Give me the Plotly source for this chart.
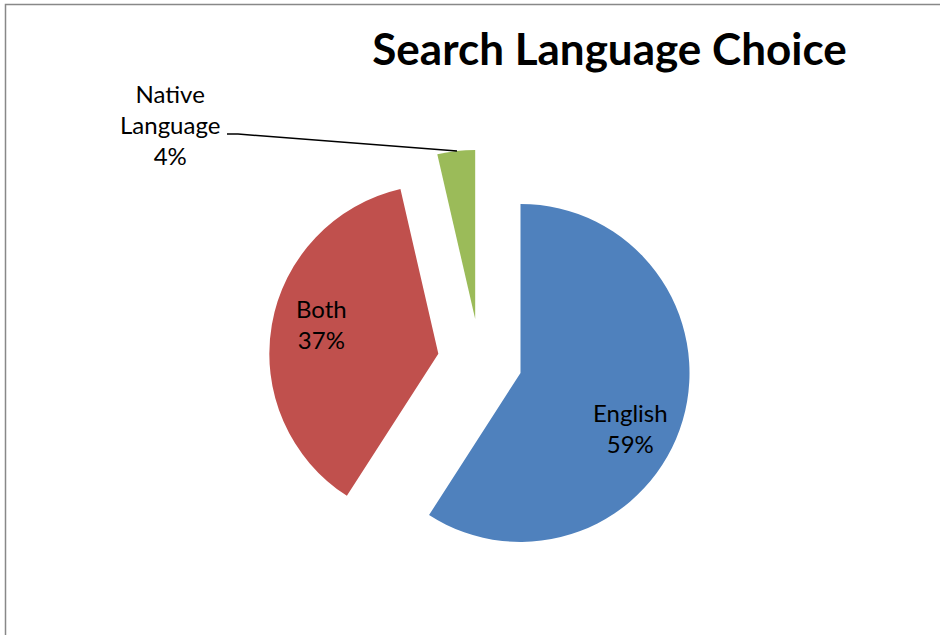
import plotly.graph_objects as go

categories = ["English", "Both", "Native Language"]
values = [59.1, 37.3, 3.6]
colors = ["#4F81BD", "#C0504D", "#9BBB59"]
title_text = "Search Language Choice"

W, H = 940, 635

fig = go.Figure()
fig.add_trace(go.Pie(
    labels=categories,
    values=values,
    sort=False,
    direction="clockwise",
    rotation=0,
    pull=[0.25, 0.25, 0.25],
    marker=dict(colors=colors, line=dict(width=0)),
    textinfo="none",
    domain=dict(x=[0.2106, 0.8106], y=[0.0988, 0.7642]),
    showlegend=False,
    hoverinfo="label+percent",
))

total = sum(values)
pct = [f"{round(v * 100 / total)}%" for v in values]
label_text = [
    f"{categories[0]}<br>{pct[0]}",
    f"{categories[1]}<br>{pct[1]}",
    "Native<br>Language<br>" + pct[2],
]
# label centres in pixels (x, y from top)
label_pos = [(630, 428), (321, 324), (170, 125)]
for txt, (px, py) in zip(label_text, label_pos):
    fig.add_annotation(
        x=px / W, y=1 - py / H, xref="paper", yref="paper",
        text=txt, showarrow=False,
        font=dict(family="Lato", size=24, color="black"),
        align="center", xanchor="center", yanchor="middle",
    )

fig.add_shape(
    type="path", xref="paper", yref="paper",
    path=f"M {227/W},{1-134/H} L {238/W},{1-134/H} L {457/W},{1-151/H}",
    line=dict(color="black", width=1.5),
)

# chart area border
fig.add_shape(
    type="rect", xref="paper", yref="paper",
    x0=5.5 / W, y0=-0.05, x1=1.05, y1=1 - 4.5 / H,
    line=dict(color="#888888", width=1.5), fillcolor="rgba(0,0,0,0)",
)

fig.update_layout(
    width=W, height=H,
    margin=dict(l=0, r=0, t=0, b=0),
    paper_bgcolor="white", plot_bgcolor="white",
    title=dict(text=f"<b>{title_text}</b>", x=609.5 / W, xanchor="center",
               y=1 - 50 / H, yanchor="middle",
               font=dict(family="Lato", size=44, color="black")),
)

fig.write_html("out.html", config={"displayModeBar": False},
               post_script="document.body.style.margin='0px';")
